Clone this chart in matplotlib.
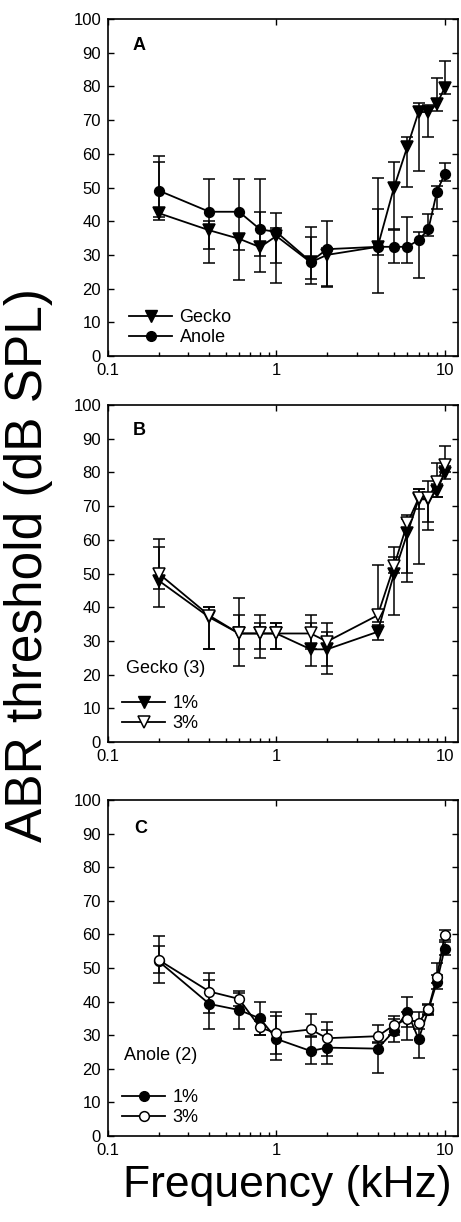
import matplotlib
matplotlib.use("Agg")
import matplotlib.pyplot as plt
from matplotlib.lines import Line2D
from matplotlib.ticker import LogLocator, NullFormatter, FixedLocator, FixedFormatter

plt.rcParams["font.family"] = ["Liberation Sans", "DejaVu Sans"]

# frequencies (kHz)
freq = [0.2, 0.4, 0.6, 0.8, 1.0, 1.6, 2.0, 4.0, 5.0, 6.0, 7.0, 8.0, 9.0, 10.0]

# panel A: gecko vs anole
gecko = [42.4, 37.3, 34.8, 32.3, 35.6, 27.8, 30.0, 32.4, 50.0, 62.1, 72.4, 72.4, 74.8, 79.6]
gecko_lo = [1.2, 9.6, 12.1, 2.5, 7.9, 5.0, 9.5, 13.6, 12.3, 11.9, 17.4, 7.3, 2.0, 2.0]
gecko_hi = [15.3, 2.8, 1.5, 10.3, 2.4, 7.4, 2.0, 20.3, 7.7, 2.8, 2.8, 2.0, 7.8, 8.0]
anole = [49.1, 42.8, 42.8, 37.6, 36.8, 28.0, 31.7, 32.4, 32.4, 32.4, 34.4, 37.6, 48.8, 54.0]
anole_lo = [8.7, 11.1, 11.3, 12.6, 15.2, 6.6, 10.9, 2.4, 4.7, 4.7, 11.4, 2.0, 5.3, 2.0]
anole_hi = [10.1, 9.7, 9.7, 14.9, 5.7, 10.2, 8.4, 11.1, 5.0, 8.9, 2.5, 4.4, 1.6, 3.4]

# panel B: gecko 1% / 3%
g1 = [47.9, 37.0, 32.2, 32.2, 32.2, 27.5, 27.5, 32.7, 49.9, 61.9, 72.0, 72.0, 74.6, 79.9]
g1_lo = [2.6, 9.4, 9.6, 7.2, 4.7, 4.9, 7.4, 2.4, 12.2, 14.3, 3.0, 6.6, 2.0, 1.9]
g1_hi = [10.1, 3.2, 5.5, 3.0, 3.0, 7.7, 5.2, 2.0, 5.1, 4.2, 3.0, 2.0, 2.0, 2.0]
g3 = [50.0, 37.5, 32.2, 32.2, 32.2, 32.2, 29.8, 37.6, 52.2, 64.9, 72.3, 72.3, 77.2, 82.2]
g3_lo = [9.8, 9.9, 4.6, 4.7, 4.7, 4.7, 7.2, 2.0, 2.0, 14.7, 19.6, 9.4, 4.4, 2.0]
g3_hi = [10.1, 2.7, 10.4, 5.5, 3.0, 5.5, 5.4, 14.9, 5.6, 2.5, 2.7, 5.0, 5.5, 5.6]

# panel C: anole 1% / 3%
a1 = [52.0, 39.3, 37.5, 35.0, 28.9, 25.3, 26.3, 26.0, 31.3, 37.0, 28.8, 37.5, 45.9, 55.8]
a1_lo = [3.6, 7.4, 5.7, 5.0, 6.3, 3.9, 5.0, 7.3, 3.4, 4.5, 5.5, 1.5, 2.1, 2.0]
a1_hi = [4.5, 7.2, 5.7, 5.0, 6.8, 4.3, 5.2, 2.0, 3.5, 4.4, 5.5, 1.5, 2.0, 2.0]
a3 = [52.4, 43.0, 40.8, 32.3, 30.6, 31.7, 29.1, 29.7, 33.0, 34.8, 33.7, 37.8, 47.4, 59.8]
a3_lo = [7.0, 6.3, 2.0, 2.2, 6.3, 2.0, 5.3, 2.0, 3.0, 6.2, 2.0, 1.5, 2.0, 1.5]
a3_hi = [7.0, 5.6, 1.9, 2.0, 6.2, 4.6, 4.9, 3.3, 2.8, 2.0, 3.3, 1.5, 4.2, 1.5]

yticks = [0, 10, 20, 30, 40, 50, 60, 70, 80, 90, 100]
xticks = [0.1, 1, 10]
xticklabels = ["0.1", "1", "10"]

fig = plt.figure(figsize=(4.61, 12.22), dpi=100)
W, H = 461.0, 1222.0


def make_ax(top, bottom):
    ax = fig.add_axes([108 / W, (H - bottom) / H, 350 / W, (bottom - top) / H])
    ax.set_xscale("log")
    ax.set_xlim(0.1, 12)
    ax.set_ylim(0, 100)
    ax.set_yticks(yticks)
    ax.xaxis.set_major_locator(FixedLocator(xticks))
    ax.xaxis.set_major_formatter(FixedFormatter(xticklabels))
    ax.xaxis.set_minor_locator(LogLocator(base=10, subs=range(2, 10)))
    ax.xaxis.set_minor_formatter(NullFormatter())
    ax.tick_params(which="major", direction="in", length=4, width=1, labelsize=12,
                   right=True, top=True, pad=5)
    ax.tick_params(which="minor", direction="in", length=3, width=1, top=False)
    for s in ax.spines.values():
        s.set_linewidth(1.2)
    return ax


def series(ax, y, lo, hi, marker, ms, filled):
    ax.errorbar(freq, y, yerr=[lo, hi], fmt="-", marker=marker, ms=ms, color="k",
                mfc="k" if filled else "white", mec="k", mew=1.1, lw=1.3,
                elinewidth=1.1, capsize=4.5, capthick=1.1)


def legend(ax, labels, marker, ms, anchor):
    handles = [Line2D([], [], color="k", marker=marker, ms=ms, lw=1.3, mfc="k", mec="k"),
               Line2D([], [], color="k", marker=marker, ms=ms, lw=1.3, mfc="white", mec="k", mew=1.1)]
    ax.legend(handles, labels, loc="lower left", bbox_to_anchor=anchor, frameon=False,
              fontsize=13, handlelength=2.4, handletextpad=0.4, labelspacing=0.15,
              borderpad=0, borderaxespad=0)


# panel A
axA = make_ax(19, 356)
series(axA, gecko, gecko_lo, gecko_hi, "v", 8, True)
series(axA, anole, anole_lo, anole_hi, "o", 7, True)
hA = [Line2D([], [], color="k", marker="v", ms=8, lw=1.3),
      Line2D([], [], color="k", marker="o", ms=7, lw=1.3)]
axA.legend(hA, ["Gecko", "Anole"], loc="lower left", bbox_to_anchor=(0.06, 0.03),
           frameon=False, fontsize=13, handlelength=2.4, handletextpad=0.4,
           labelspacing=0.15, borderpad=0, borderaxespad=0)
axA.text(0.07, 0.92, "A", transform=axA.transAxes, fontsize=13, fontweight="bold",
         va="center", ha="left")

# panel B
axB = make_ax(405, 742)
series(axB, g1, g1_lo, g1_hi, "v", 8, True)
series(axB, g3, g3_lo, g3_hi, "v", 8, False)
legend(axB, ["1%", "3%"], "v", 8, (0.04, 0.03))
axB.text(0.05, 0.217, "Gecko (3)", transform=axB.transAxes, fontsize=13, va="center")
axB.text(0.07, 0.925, "B", transform=axB.transAxes, fontsize=13, fontweight="bold",
         va="center", ha="left")

# panel C
axC = make_ax(800, 1136)
series(axC, a1, a1_lo, a1_hi, "o", 7, True)
series(axC, a3, a3_lo, a3_hi, "o", 7, False)
legend(axC, ["1%", "3%"], "o", 7, (0.04, 0.03))
axC.text(0.045, 0.24, "Anole (2)", transform=axC.transAxes, fontsize=13, va="center")
axC.text(0.075, 0.915, "C", transform=axC.transAxes, fontsize=13, fontweight="bold",
         va="center", ha="left")

fig.text(29 / W, (H - 565) / H, "ABR threshold (dB SPL)", rotation=90, fontsize=37,
         ha="center", va="center")
fig.text(287 / W, (H - 1185) / H, "Frequency (kHz)", fontsize=32, ha="center", va="center")

fig.savefig("out.png", dpi=100)
